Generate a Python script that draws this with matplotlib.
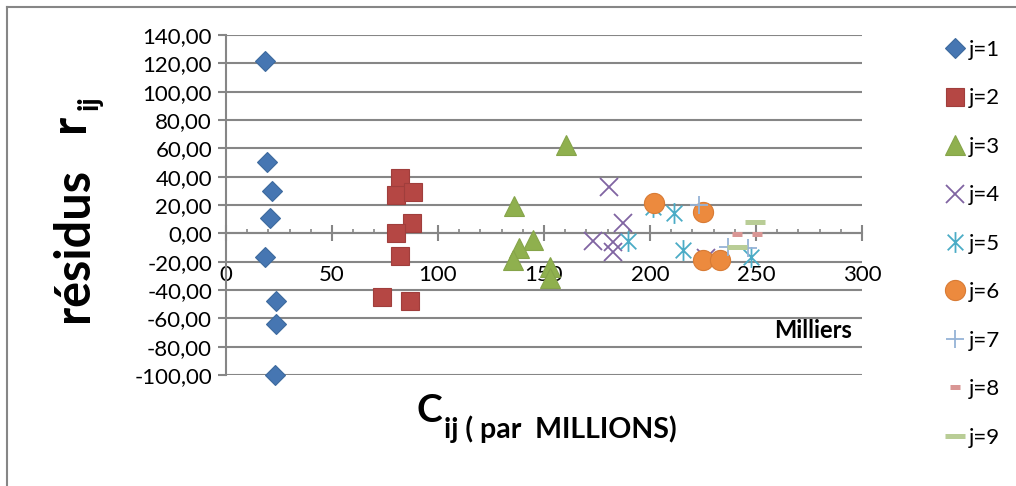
import numpy as np
import matplotlib
matplotlib.use("Agg")
import matplotlib.pyplot as plt
from matplotlib.path import Path
from matplotlib.lines import Line2D

plt.rcParams['font.family'] = ['Lato', 'DejaVu Sans']

# residuals r_ij against C_ij (thousands of millions), one series per j
x1 = [18.4, 19.2, 21.8, 20.9, 18.3, 23.4, 23.4, 23.1]
y1 = [121.6, 50.5, 30.1, 10.6, -16.7, -47.8, -64.0, -100.0]
x2 = [82.1, 80.0, 88.4, 87.9, 80.0, 82.1, 73.4, 86.8]
y2 = [38.8, 27.0, 29.0, 7.5, 0.4, -16.0, -45.2, -47.6]
x3 = [160.4, 136.0, 145.0, 138.4, 135.2, 152.8, 152.8]
y3 = [62.3, 19.3, -4.7, -10.6, -18.8, -23.5, -31.8]
x4 = [180.8, 187.1, 173.0, 182.7, 182.7, 226.4]
y4 = [32.9, 7.5, -5.4, -5.9, -13.0, -17.5]
x5 = [189.8, 201.6, 211.5, 215.7, 247.6]
y5 = [-5.2, 18.8, 14.1, -11.8, -16.7]
x6 = [201.9, 225.0, 225.0, 233.0]
y6 = [21.6, 15.3, -18.8, -18.8]
x7 = [223.0, 236.9, 246.0]
y7 = [20.0, -9.4, -10.4]
x8 = [241.2, 250.3]
y8 = [-0.5, -0.5]
x9 = [249.5, 240.9]
y9 = [8.2, -9.4]

labels = ["j=1", "j=2", "j=3", "j=4", "j=5", "j=6", "j=7", "j=8", "j=9"]
xticks = [0, 50, 100, 150, 200, 250, 300]
yticks = list(range(-100, 141, 20))

star = Path([(-0.75, -0.75), (0.75, 0.75), (-0.75, 0.75), (0.75, -0.75), (0, -1), (0, 1)],
            [Path.MOVETO, Path.LINETO, Path.MOVETO, Path.LINETO, Path.MOVETO, Path.LINETO])

styles = [
    dict(marker='D', ms=10, mfc='#4676B2', mec='#3D6A9E', mew=0.8),
    dict(marker='s', ms=13.5, mfc='#B54744', mec='#A03E3C', mew=0.8),
    dict(marker='^', ms=14.5, mfc='#8FB04E', mec='#86A44A', mew=0.8),
    dict(marker='x', ms=13, mec='#8064A2', mew=1.3),
    dict(marker=star, ms=15, mec='#4BACC6', mew=1.3),
    dict(marker='o', ms=14.5, mfc='#EC8A3E', mec='#D87B35', mew=0.8),
    dict(marker='+', ms=13.5, mec='#95B3D7', mew=1.3),
    dict(marker='_', ms=7.5, mec='#D99694', mew=3.6),
    dict(marker='_', ms=14.5, mec='#B9CD96', mew=3.6),
]
series = [(x1, y1), (x2, y2), (x3, y3), (x4, y4), (x5, y5), (x6, y6), (x7, y7), (x8, y8), (x9, y9)]

fig = plt.figure(figsize=(10.16, 4.86), dpi=100)
W, H = 1016, 486
ax = fig.add_axes([226 / W, 1 - 375 / H, 636 / W, 340 / H])

grid_c = '#868686'
for (xs, ys), st, lab in zip(series, styles, labels):
    ax.plot(xs, ys, ls='none', label=lab, clip_on=False, zorder=3, **st)

ax.set_xlim(0, 300)
ax.set_ylim(-100, 140)
ax.set_yticks(yticks)
ax.set_yticklabels([f"{v:.2f}".replace('.', ',') for v in yticks])
ax.set_xticks(xticks)
ax.set_xticklabels([str(v) for v in xticks])
ax.set_xticks(np.arange(0, 301, 10), minor=True)

ax.yaxis.grid(True, color=grid_c, lw=1.5)
ax.set_axisbelow(True)
for s in ['top', 'right']:
    ax.spines[s].set_visible(False)
ax.spines['left'].set_color(grid_c)
ax.spines['left'].set_linewidth(1.5)
ax.spines['bottom'].set_position(('data', 0))
ax.spines['bottom'].set_color(grid_c)
ax.spines['bottom'].set_linewidth(1.5)

ax.tick_params(axis='y', direction='out', length=6, width=1.5, color=grid_c, pad=4,
               labelsize=16)
ax.tick_params(axis='x', which='major', direction='inout', length=11.5, width=1.5,
               color=grid_c, pad=17, labelsize=16)
ax.tick_params(axis='x', which='minor', direction='in', length=3, width=1.2, color=grid_c)

# axis titles
fig.text(88 / W, 1 - 322 / H, "résidus", rotation=90, rotation_mode='anchor',
         ha='left', va='baseline', fontsize=35, fontweight='bold')
fig.text(84 / W, 1 - 132 / H, "r", rotation=90, rotation_mode='anchor',
         ha='left', va='baseline', fontsize=35, fontweight='bold')
fig.text(98 / W, 1 - 110 / H, "ij", rotation=90, rotation_mode='anchor',
         ha='left', va='baseline', fontsize=21, fontweight='bold')
fig.text(416 / W, 1 - 422 / H, "C", ha='left', va='baseline', fontsize=28, fontweight='bold')
fig.text(444 / W, 1 - 438 / H, "ij ( par  MILLIONS)", ha='left', va='baseline',
         fontsize=20.5, fontweight='bold')
fig.text(813 / W, 1 - 331 / H, "Milliers", ha='center', va='center', fontsize=17,
         fontweight='bold')

ax.legend(loc='upper left', bbox_to_anchor=(944 / W, 1 - 40 / H), bbox_transform=fig.transFigure,
          frameon=False, fontsize=16, borderpad=0, borderaxespad=0, handlelength=1.0,
          handletextpad=0.1, labelspacing=1.28)

# outer chart frame (partly cropped)
fig.add_artist(Line2D([7 / W, 7 / W], [0, 1 - 7 / H], color=grid_c, lw=1.5))
fig.add_artist(Line2D([7 / W, 1], [1 - 7 / H, 1 - 7 / H], color=grid_c, lw=1.5))

fig.savefig('out.png', dpi=100)
